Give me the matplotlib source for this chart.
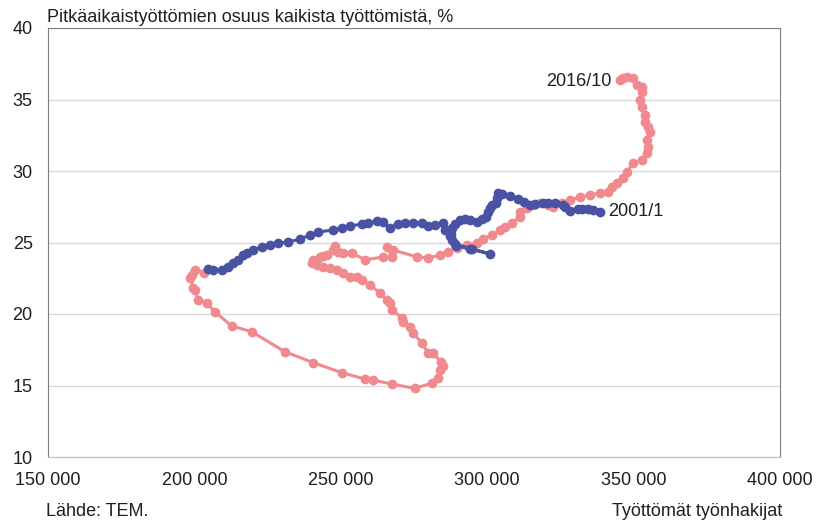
import matplotlib.pyplot as plt

plt.rcParams['font.family'] = ['Liberation Sans', 'DejaVu Sans']

# Työttömät työnhakijat (tuhatta) ja pitkäaikaistyöttömien osuus (%)
# 2001/1 -> 2008
blue_x = [338.5, 336.1, 334.4, 332.4, 331.0, 328.3, 326.6, 325.9, 323.2, 320.8,
          319.1, 316.3, 314.6, 312.6, 310.5, 307.8, 305.1, 303.7, 303.4, 303.0,
          301.6, 301.0, 300.3, 299.6, 298.2, 296.5, 294.1, 292.4, 290.7, 289.0,
          288.0, 287.6, 288.0, 289.3, 294.1, 301.0, 294.8, 289.0, 287.3, 285.6,
          284.9, 282.2, 279.8, 277.7, 274.7, 271.9, 269.5, 266.8, 264.4, 262.4,
          259.3, 257.2, 253.1, 250.4, 247.3, 242.2, 239.5, 236.1, 232.0, 228.6,
          225.8, 223.1, 220.0, 218.0, 216.6, 214.9, 213.2, 211.5, 209.4, 206.4,
          204.6]
blue_y = [27.13, 27.27, 27.34, 27.34, 27.34, 27.20, 27.48, 27.62, 27.76, 27.76,
          27.76, 27.69, 27.62, 27.83, 28.04, 28.25, 28.39, 28.46, 28.11, 27.76,
          27.62, 27.41, 27.13, 26.78, 26.64, 26.43, 26.57, 26.64, 26.57, 26.29,
          26.01, 25.59, 25.17, 24.76, 24.55, 24.20, 24.55, 24.90, 25.45, 25.87,
          26.36, 26.22, 26.15, 26.36, 26.36, 26.36, 26.29, 26.01, 26.43, 26.50,
          26.36, 26.29, 26.15, 26.01, 25.87, 25.73, 25.52, 25.24, 25.03, 24.97,
          24.83, 24.69, 24.48, 24.27, 24.13, 23.78, 23.57, 23.29, 23.08, 23.08,
          23.15]

# 2008 -> 2016/10
pink_x = [203.3, 200.2, 199.1, 198.5, 199.6, 200.2, 201.3, 204.2, 207.0, 212.7,
          219.6, 230.9, 240.6, 250.3, 258.3, 261.1, 267.4, 275.3, 281.1, 283.2,
          283.9, 284.9, 284.2, 281.5, 279.8, 277.7, 274.7, 273.6, 271.2, 270.9,
          267.5, 266.8, 265.8, 263.4, 260.0, 257.2, 255.5, 253.1, 250.8, 248.7,
          246.3, 243.9, 241.9, 240.2, 240.5, 242.9, 243.9, 245.3, 247.3, 248.0,
          249.0, 250.8, 253.8, 258.3, 264.4, 267.5, 265.8, 267.8, 276.0, 279.8,
          283.9, 286.6, 289.7, 293.1, 296.5, 298.6, 301.6, 304.4, 306.1, 308.5,
          311.2, 311.2, 313.6, 315.6, 318.0, 320.8, 322.5, 325.5, 328.3, 331.7,
          335.1, 338.5, 341.3, 342.6, 344.3, 346.4, 347.7, 349.8, 352.9, 354.6,
          354.9, 354.6, 355.6, 354.9, 353.9, 353.9, 352.9, 352.2, 352.9, 352.9,
          351.2, 349.8, 347.7, 346.4, 345.4]
pink_y = [22.87, 23.08, 22.73, 22.52, 21.82, 21.68, 20.98, 20.77, 20.16, 19.16,
          18.76, 17.36, 16.60, 15.90, 15.45, 15.38, 15.10, 14.80, 15.17, 15.52,
          16.08, 16.36, 16.64, 17.27, 17.27, 17.97, 18.67, 19.09, 19.44, 19.72,
          20.28, 20.77, 20.98, 21.47, 22.03, 22.38, 22.59, 22.59, 22.87, 23.08,
          23.22, 23.29, 23.43, 23.57, 23.78, 23.99, 24.06, 24.13, 24.48, 24.76,
          24.34, 24.27, 24.27, 23.78, 23.99, 23.99, 24.69, 24.48, 23.99, 23.92,
          24.13, 24.34, 24.62, 24.83, 24.97, 25.24, 25.52, 25.87, 26.08, 26.36,
          26.78, 27.13, 27.41, 27.62, 27.76, 27.62, 27.48, 27.76, 27.97, 28.18,
          28.32, 28.46, 28.53, 28.88, 29.16, 29.51, 29.93, 30.56, 30.77, 31.26,
          31.68, 32.17, 32.73, 33.08, 33.43, 33.92, 34.48, 34.97, 35.52, 35.87,
          36.01, 36.50, 36.57, 36.50, 36.36]

x_ticks = [150000, 200000, 250000, 300000, 350000, 400000]
x_labels = ['150 000', '200 000', '250 000', '300 000', '350 000', '400 000']
y_ticks = [10, 15, 20, 25, 30, 35, 40]

blue = '#4A52A4'
pink = '#F18A8F'
txt = '#1F1F1F'

fig = plt.figure(figsize=(8.17, 5.21), dpi=100)
ax = fig.add_axes([48 / 817, 1 - 457 / 521, 732 / 817, 429 / 521])

ax.plot([v * 1000 for v in blue_x], blue_y, color=blue, lw=2.2,
        marker='o', ms=6, mec=blue, zorder=3)
ax.plot([v * 1000 for v in pink_x], pink_y, color=pink, lw=2.2,
        marker='o', ms=6, mec=pink, zorder=2)

ax.set_xlim(150000, 400000)
ax.set_ylim(10, 40)
ax.set_xticks(x_ticks)
ax.set_xticklabels(x_labels)
ax.set_yticks(y_ticks)
ax.tick_params(length=0, labelsize=13, colors=txt)
ax.tick_params(axis='y', pad=11)
ax.tick_params(axis='x', pad=11)

ax.grid(axis='y', color='#D9D9D9', lw=1)
ax.set_axisbelow(True)
for s in ['left', 'right', 'top']:
    ax.spines[s].set_color('#7F7F7F')
ax.spines['bottom'].set_color('#BFBFBF')

ax.text(pink_x[-1] * 1000 - 2800, pink_y[-1] - 0.1, '2016/10', ha='right',
        va='center', fontsize=13, color=txt)
ax.text(blue_x[0] * 1000 + 2800, blue_y[0] + 0.05, '2001/1', ha='left',
        va='center', fontsize=13, color=txt)

fig.text(47 / 817, 1 - 18 / 521, 'Pitkäaikaistyöttömien osuus kaikista työttömistä, %',
         ha='left', va='center', fontsize=13, color=txt)
fig.text(46 / 817, 1 - 512 / 521, 'Lähde: TEM.', ha='left', va='center',
         fontsize=13, color=txt)
fig.text(782 / 817, 1 - 512 / 521, 'Työttömät työnhakijat', ha='right',
         va='center', fontsize=13, color=txt)

fig.savefig('out.png', dpi=100)
